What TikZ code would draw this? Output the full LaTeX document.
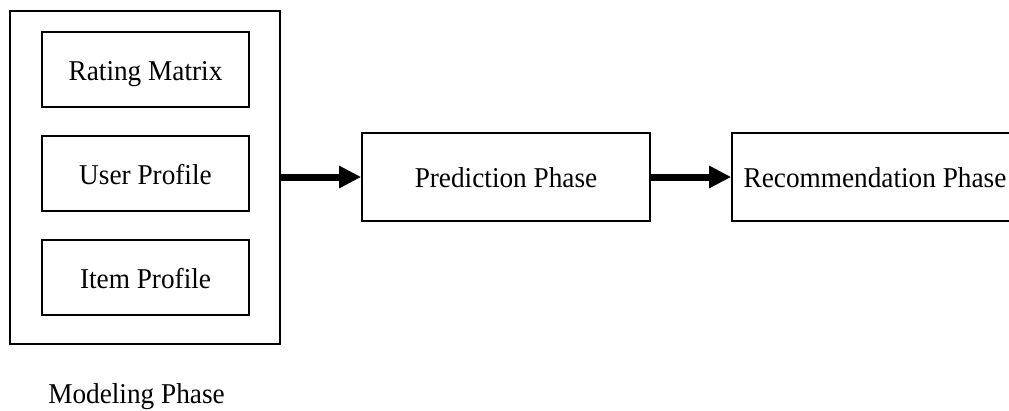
\documentclass[tikz,border=0pt]{standalone}
\usepackage{fontspec}
\setmainfont{Liberation Serif}[FakeStretch=0.95]
\usetikzlibrary{arrows.meta}
\begin{document}
\begin{tikzpicture}[x=1pt,y=-1pt,
  txt/.style={font=\fontsize{28.7}{34}\selectfont},
  box/.style={draw, line width=1.6pt, rectangle, inner sep=0pt, txt, text height=21pt, text depth=0pt},
  flow/.style={line width=7pt, -{Triangle[length=22pt,width=21pt]}}]
\useasboundingbox (0,0) rectangle (1009,410);
\clip (0,0) rectangle (1009,410);
\node[box, minimum width=270pt, minimum height=333pt] (outer) at (145,177.5) {};
\node[box, minimum width=207pt, minimum height=75pt] (rm) at (145.5,69.5) {Rating Matrix};
\node[box, minimum width=207pt, minimum height=75pt] (up) at (145.5,173.5) {User Profile};
\node[box, minimum width=207pt, minimum height=75pt] (ip) at (145.5,277.5) {Item Profile};
\node[txt, inner sep=0pt, anchor=base] (lbl) at (136.5,403) {Modeling Phase};
\node[box, minimum width=288pt, minimum height=88pt] (pred) at (506,177) {Prediction Phase};
\node[box, minimum width=286pt, minimum height=88pt] (rec) at (875,177) {Recommendation Phase};
\draw[flow] (outer.east |- pred.west) -- (pred.west);
\draw[flow] (pred.east) -- (rec.west);
\end{tikzpicture}
\end{document}
